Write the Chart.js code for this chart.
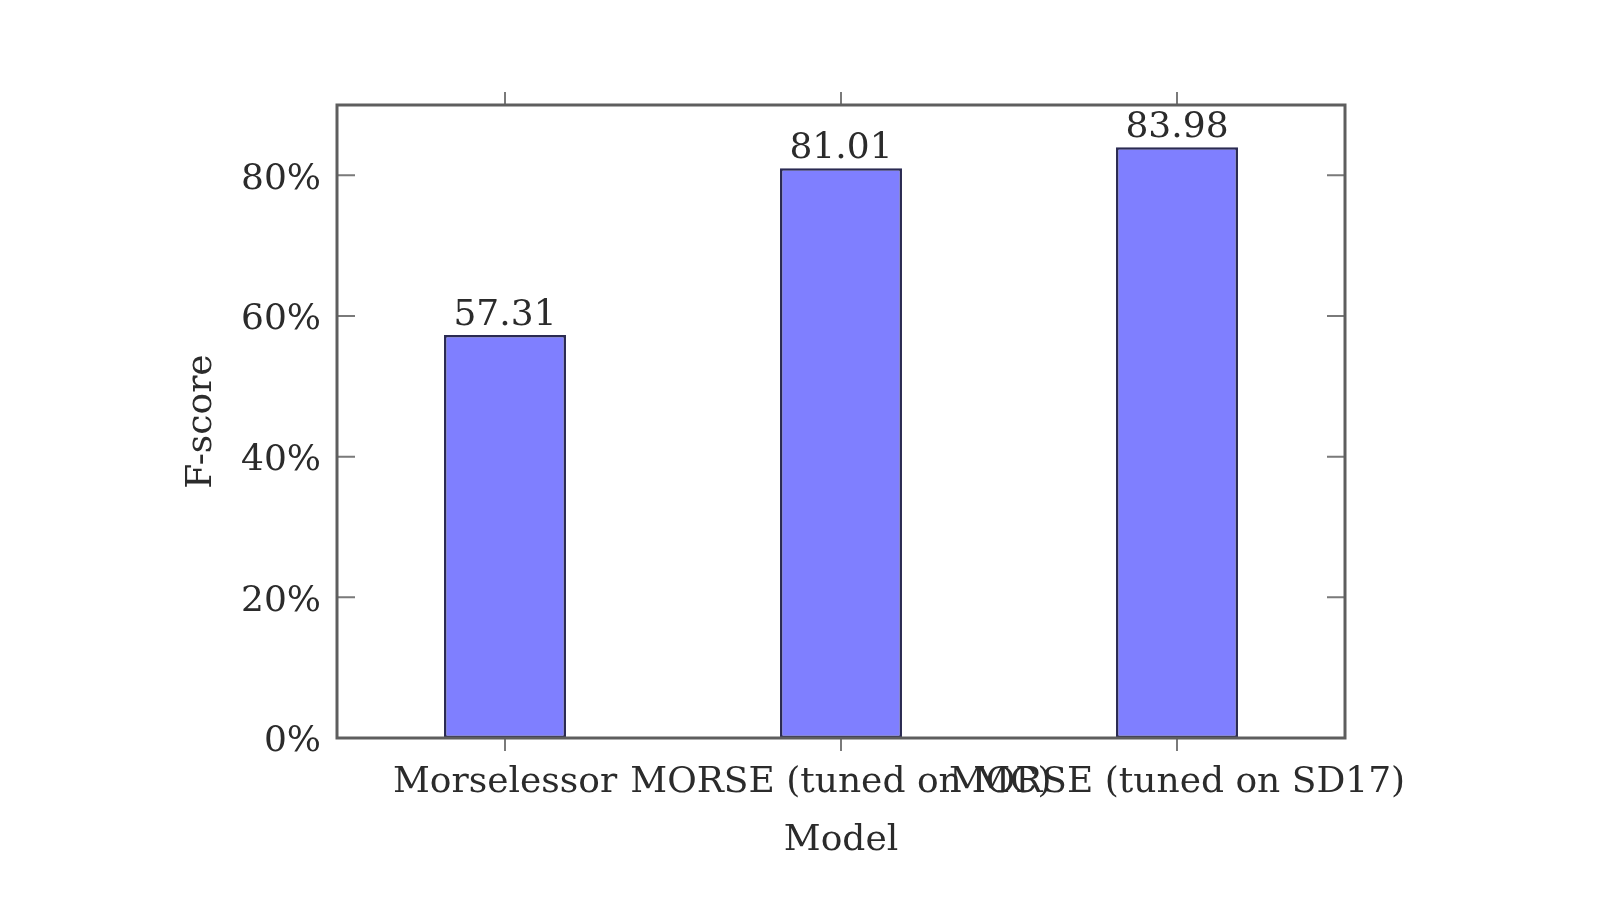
<!DOCTYPE html>
<html>
<head>
<meta charset="utf-8">
<script src="https://cdn.jsdelivr.net/npm/chart.js@4/dist/chart.umd.min.js"></script>
<style>
    html, body { margin: 0; padding: 0; background: #ffffff; }
    #wrap { width: 1611px; height: 906px; position: relative; }
</style>
</head>
<body>
<div id="wrap"><canvas id="fscoreChart"></canvas></div>
<script>
    const models = ['Morselessor', 'MORSE (tuned on MC)', 'MORSE (tuned on SD17)'];
    const fscores = [57.31, 81.01, 83.98];
    const yTickValues = [0, 20, 40, 60, 80];

    const textColor = '#2b2b2b';
    const fontFamily = '"DejaVu Serif", "Liberation Serif", serif';
    const fontSize = 36;

    // pgfplots-like frame: box around the plot, ticks inside on y, outside on x
    const framePlugin = {
        id: 'frame',
        afterDatasetsDraw(chart) {
            const { ctx, chartArea: area, scales } = chart;
            ctx.save();
            ctx.strokeStyle = '#7a7a7a';
            ctx.lineWidth = 2;
            yTickValues.forEach((v) => {
                const y = scales.y.getPixelForValue(v);
                ctx.beginPath();
                ctx.moveTo(area.left, y);
                ctx.lineTo(area.left + 18, y);
                ctx.moveTo(area.right, y);
                ctx.lineTo(area.right - 18, y);
                ctx.stroke();
            });
            models.forEach((m, i) => {
                const x = scales.x.getPixelForValue(i);
                ctx.beginPath();
                ctx.moveTo(x, area.top);
                ctx.lineTo(x, area.top - 13);
                ctx.moveTo(x, area.bottom);
                ctx.lineTo(x, area.bottom + 13);
                ctx.stroke();
            });
            ctx.strokeStyle = '#5e5e5e';
            ctx.lineWidth = 3;
            ctx.strokeRect(area.left, area.top, area.right - area.left, area.bottom - area.top);

            // value labels above bars
            ctx.fillStyle = textColor;
            ctx.font = fontSize + 'px ' + fontFamily;
            ctx.textAlign = 'center';
            ctx.textBaseline = 'alphabetic';
            chart.getDatasetMeta(0).data.forEach((bar, i) => {
                ctx.fillText(fscores[i].toFixed(2), bar.x, bar.y - 10);
            });
            ctx.restore();
        }
    };

    new Chart(document.getElementById('fscoreChart'), {
        type: 'bar',
        data: {
            labels: models,
            datasets: [{
                label: 'F-score',
                data: fscores,
                backgroundColor: '#7f7fff',
                borderColor: '#2a2a52',
                borderWidth: 2.5,
                borderSkipped: false,
                barPercentage: 0.363,
                categoryPercentage: 1
            }]
        },
        options: {
            responsive: true,
            maintainAspectRatio: false,
            animation: false,
            layout: {
                padding: { left: 0, top: 105, right: 266, bottom: 0 }
            },
            plugins: {
                legend: { display: false },
                tooltip: { enabled: false }
            },
            scales: {
                x: {
                    offset: true,
                    grid: { display: false },
                    border: { display: false },
                    ticks: {
                        autoSkip: false,
                        maxRotation: 0,
                        minRotation: 0,
                        padding: 15,
                        color: textColor,
                        font: { family: fontFamily, size: fontSize }
                    },
                    title: {
                        display: true,
                        text: 'Model',
                        color: textColor,
                        padding: { top: 0, bottom: 44 },
                        font: { family: fontFamily, size: fontSize }
                    },
                    afterFit(scale) { scale.height = 168; }
                },
                y: {
                    min: 0,
                    max: 90,
                    grid: { display: false },
                    border: { display: false },
                    afterBuildTicks(scale) {
                        scale.ticks = yTickValues.map((v) => ({ value: v }));
                    },
                    ticks: {
                        padding: 8,
                        labelOffset: 4,
                        color: textColor,
                        font: { family: fontFamily, size: fontSize },
                        callback: (v) => v + '%'
                    },
                    title: {
                        display: true,
                        text: 'F-score',
                        color: textColor,
                        padding: { top: 180, bottom: 0 },
                        font: { family: fontFamily, size: fontSize }
                    },
                    afterFit(scale) { scale.width = 337; }
                }
            }
        },
        plugins: [framePlugin]
    });
</script>
</body>
</html>
